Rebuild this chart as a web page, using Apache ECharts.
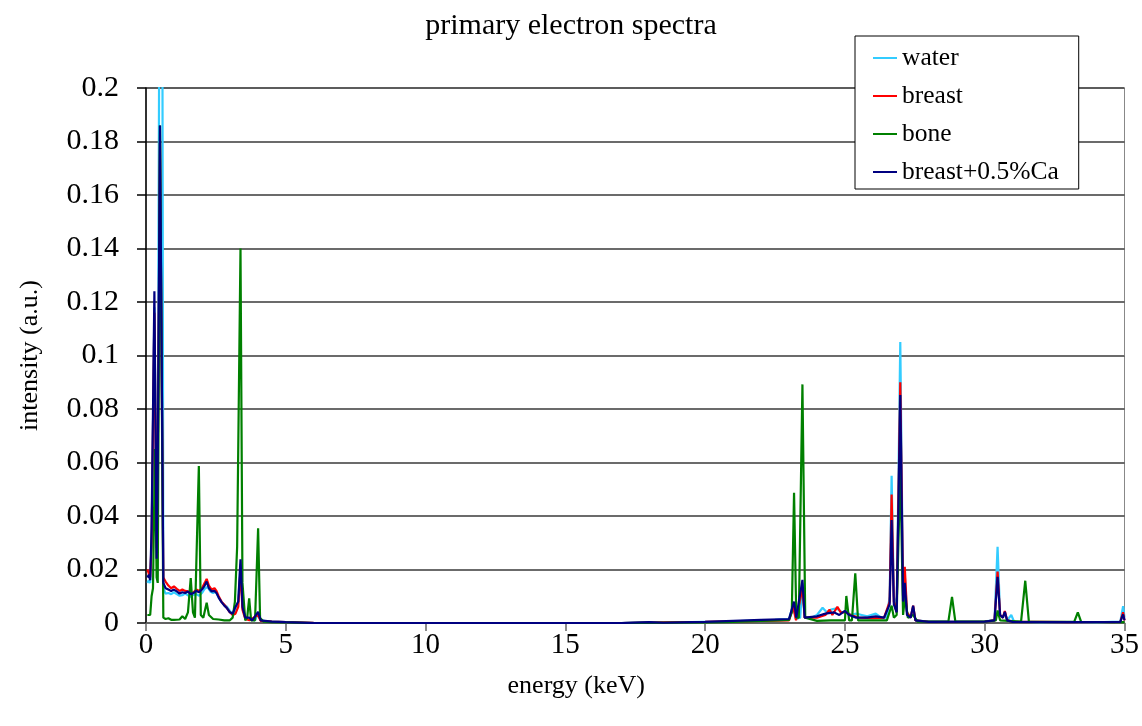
<!DOCTYPE html>
<html>
<head>
<meta charset="utf-8">
<script src="https://cdn.jsdelivr.net/npm/echarts@6/dist/echarts.min.js"></script>
<style>
html,body{margin:0;padding:0;background:#fff;}
#chart{width:1142px;height:726px;}
</style>
</head>
<body>
<div id="chart"></div>
<script>
const seriesNames = ['water', 'breast', 'bone', 'breast+0.5%Ca'];
const xTicks = [0, 5, 10, 15, 20, 25, 30, 35];
const yTicks = [0, 0.02, 0.04, 0.06, 0.08, 0.1, 0.12, 0.14, 0.16, 0.18, 0.2];

const waterE = [0.05,0.1,0.15,0.2,0.3,0.38,0.42,0.47,0.5,0.56,0.59,0.62,0.7,0.8,0.9,1.0,1.1,1.2,1.3,1.4,1.5,1.6,1.7,1.8,1.9,2.0,2.1,2.2,2.3,2.4,2.5,2.6,2.7,2.8,2.9,3.0,3.1,3.2,3.3,3.38,3.45,3.55,3.7,3.9,4.0,4.1,4.3,4.6,5,6,10,17,18,19,20,21,22,22.5,23,23.15,23.25,23.4,23.48,23.56,23.8,24.0,24.2,24.35,24.5,24.7,24.9,25.05,25.2,25.4,25.6,25.8,26.1,26.3,26.5,26.6,26.67,26.75,26.85,26.98,27.08,27.14,27.22,27.35,27.44,27.52,28,29,30,30.35,30.46,30.55,30.65,30.72,30.8,30.95,31.05,32,33,34,34.85,34.95,35];
const waterI = [0.015,0.016,0.015,0.03,0.118,0.03,0.06,0.21,0.26,0.26,0.2,0.013,0.011,0.0112,0.0108,0.0115,0.0108,0.0102,0.0104,0.011,0.0104,0.0098,0.0105,0.0108,0.0102,0.0112,0.0128,0.0135,0.0118,0.0112,0.0118,0.0095,0.008,0.0068,0.006,0.0045,0.0035,0.0045,0.008,0.022,0.007,0.002,0.0015,0.001,0.0035,0.001,0.0006,0.0005,0.0003,0.0001,0,0,0.0003,0.0002,0.0004,0.0006,0.001,0.0012,0.0015,0.007,0.0015,0.002,0.015,0.002,0.002,0.003,0.0057,0.004,0.005,0.0055,0.004,0.0045,0.003,0.0035,0.003,0.0025,0.0035,0.002,0.002,0.01,0.055,0.01,0.005,0.105,0.01,0.018,0.004,0.002,0.006,0.001,0.0005,0.0005,0.0006,0.001,0.0285,0.003,0.002,0.004,0.001,0.003,0.0005,0.0003,0.0003,0.0002,0.0005,0.0063,0.002];

const breastE = [0.05,0.1,0.15,0.2,0.3,0.38,0.42,0.5,0.56,0.62,0.7,0.8,0.9,1.0,1.1,1.2,1.3,1.4,1.5,1.6,1.7,1.8,1.9,2.0,2.1,2.17,2.25,2.35,2.45,2.52,2.6,2.7,2.8,2.9,3.0,3.1,3.2,3.3,3.38,3.45,3.55,3.7,4.0,4.1,4.5,5,6,10,17,18.5,20,21,22,23,23.15,23.25,23.48,23.56,24,24.3,24.45,24.55,24.73,24.85,25.05,25.2,25.5,26,26.4,26.6,26.67,26.75,26.85,26.98,27.08,27.14,27.22,27.35,27.44,27.52,28,30,30.35,30.46,30.55,30.65,30.72,30.8,31,33,34.85,34.95,35];
const breastI = [0.02,0.02,0.017,0.03,0.116,0.028,0.06,0.18,0.18,0.017,0.0155,0.014,0.013,0.0137,0.0128,0.012,0.0125,0.012,0.0118,0.011,0.0115,0.0125,0.012,0.013,0.015,0.0165,0.014,0.0125,0.013,0.012,0.01,0.008,0.0068,0.0055,0.004,0.003,0.0035,0.006,0.02,0.005,0.0015,0.001,0.003,0.0008,0.0005,0.0003,0.0001,0,0,0.0002,0.0004,0.0006,0.0008,0.001,0.006,0.001,0.013,0.002,0.002,0.003,0.005,0.003,0.006,0.004,0.004,0.003,0.002,0.0018,0.002,0.008,0.048,0.008,0.004,0.09,0.01,0.021,0.004,0.002,0.0065,0.001,0.0004,0.0005,0.001,0.0192,0.003,0.002,0.0045,0.001,0.0005,0.0003,0.0004,0.004,0.001];

const boneE = [0.05,0.15,0.2,0.25,0.32,0.38,0.42,0.5,0.55,0.62,0.7,0.8,0.9,1.0,1.2,1.3,1.4,1.5,1.6,1.68,1.75,1.89,1.96,2.05,2.17,2.25,2.4,2.6,2.8,3.0,3.1,3.18,3.26,3.38,3.45,3.55,3.62,3.69,3.76,3.9,4.01,4.08,4.2,4.5,5,6,17,20,21,22,22.6,23,23.1,23.18,23.26,23.35,23.48,23.58,24,24.5,25,25.05,25.15,25.25,25.37,25.47,26,26.5,26.67,26.75,26.85,26.98,27.08,27.15,27.25,27.44,27.6,28.7,28.83,28.95,30,30.4,30.46,30.55,31.3,31.45,31.58,33.2,33.33,33.45,35];
const boneI = [0.003,0.003,0.01,0.013,0.065,0.017,0.015,0.186,0.186,0.002,0.0015,0.0018,0.0012,0.0012,0.0013,0.0025,0.0015,0.004,0.0168,0.004,0.002,0.0587,0.003,0.002,0.0076,0.003,0.0015,0.0013,0.001,0.001,0.002,0.008,0.0285,0.14,0.015,0.001,0.002,0.0092,0.001,0.001,0.0354,0.002,0.0005,0.0003,0.0002,0,0,0.0002,0.0004,0.0008,0.001,0.0012,0.004,0.0487,0.002,0.002,0.0892,0.002,0.0008,0.001,0.001,0.0101,0.001,0.001,0.0186,0.001,0.001,0.001,0.0065,0.002,0.003,0.058,0.003,0.01,0.002,0.003,0.0005,0.0005,0.0098,0.0005,0.0005,0.001,0.0047,0.001,0.0005,0.0158,0.0005,0.0004,0.004,0.0004,0.0003];

const caE = [0.05,0.1,0.15,0.2,0.3,0.38,0.42,0.5,0.55,0.62,0.7,0.8,0.9,1.0,1.1,1.2,1.3,1.4,1.5,1.6,1.7,1.8,1.9,2.0,2.1,2.17,2.25,2.35,2.45,2.52,2.6,2.7,2.8,2.9,3.0,3.1,3.2,3.3,3.38,3.45,3.55,3.69,3.8,4.01,4.1,4.5,5,6,17,18,18.5,19.5,20,21,22,23,23.18,23.26,23.48,23.56,24,24.3,24.6,24.8,25,25.15,25.4,25.8,26.1,26.4,26.6,26.67,26.75,26.85,26.98,27.08,27.14,27.22,27.35,27.44,27.52,28,30,30.35,30.46,30.55,30.65,30.72,30.8,31,33,34.85,34.95,35];
const caI = [0.017,0.018,0.016,0.035,0.124,0.024,0.06,0.186,0.186,0.015,0.013,0.0125,0.012,0.0125,0.0118,0.011,0.0115,0.0112,0.0118,0.0108,0.0112,0.012,0.0115,0.0125,0.014,0.0155,0.013,0.0118,0.012,0.0112,0.0095,0.0078,0.0065,0.0055,0.004,0.0035,0.006,0.008,0.0238,0.006,0.002,0.002,0.001,0.0042,0.001,0.0005,0.0003,0,0,0.0003,0.0001,0.0003,0.0004,0.0008,0.0012,0.0015,0.008,0.002,0.0161,0.002,0.0025,0.0035,0.004,0.003,0.0045,0.003,0.002,0.002,0.0025,0.002,0.007,0.0385,0.007,0.004,0.0852,0.008,0.015,0.003,0.002,0.0065,0.001,0.0004,0.0005,0.001,0.0173,0.003,0.002,0.0042,0.001,0.0004,0.0003,0.0004,0.0032,0.001];

const colors = ['#33CCFF', '#FF0000', '#008000', '#000080'];
const energies = [waterE, breastE, boneE, caE];
const intensities = [waterI, breastI, boneI, caI];

const serif = '"Liberation Serif", "Times New Roman", serif';
const chart = echarts.init(document.getElementById('chart'));
chart.setOption({
  animation: false,
  backgroundColor: '#fff',
  title: {
    text: 'primary electron spectra',
    left: 'center',
    top: 6,
    textStyle: { fontFamily: serif, fontSize: 30, fontWeight: 'normal', color: '#000' }
  },
  legend: {
    data: seriesNames.map(n => ({ name: n, icon: 'rect' })),
    orient: 'vertical',
    left: 855,
    top: 36,
    padding: [9, 20, 4, 18],
    itemGap: 12,
    itemWidth: 24,
    itemHeight: 2,
    backgroundColor: '#fff',
    borderColor: '#000',
    borderWidth: 1,
    borderRadius: 0,
    textStyle: { fontFamily: serif, fontSize: 25.5, color: '#000' }
  },
  grid: { left: 146, right: 16, top: 88, bottom: 103, show: true, borderColor: '#888', borderWidth: 1 },
  xAxis: {
    type: 'value',
    min: xTicks[0],
    max: xTicks[xTicks.length - 1],
    interval: 5,
    name: 'energy (keV)',
    nameLocation: 'middle',
    nameGap: 50,
    nameTextStyle: { fontFamily: serif, fontSize: 26, color: '#000', padding: [0, 118, 0, 0] },
    axisLine: { lineStyle: { color: '#666', width: 1.5 } },
    axisTick: { show: true, length: 8, lineStyle: { color: '#666', width: 1.5 } },
    axisLabel: { fontFamily: serif, fontSize: 29, color: '#000', margin: 8 },
    splitLine: { show: false }
  },
  yAxis: {
    type: 'value',
    min: yTicks[0],
    max: yTicks[yTicks.length - 1],
    interval: 0.02,
    name: 'intensity (a.u.)',
    nameLocation: 'middle',
    nameGap: 103,
    nameTextStyle: { fontFamily: serif, fontSize: 26, color: '#000' },
    axisLine: { show: true, lineStyle: { color: '#000', width: 1.5 } },
    axisTick: { show: true, length: 9, lineStyle: { color: '#000', width: 1.5 } },
    axisLabel: { fontFamily: serif, fontSize: 30, color: '#000', margin: 27,
      formatter: v => String(Math.round(v * 100) / 100) },
    splitLine: { show: true, lineStyle: { color: '#3a3a3a', width: 1.5 } }
  },
  series: seriesNames.map((n, i) => ({
    name: n,
    type: 'line',
    symbol: 'none',
    clip: true,
    color: colors[i],
    lineStyle: { color: colors[i], width: 2.2 },
    data: energies[i].map((e, k) => [e, intensities[i][k]])
  }))
});
</script>
</body>
</html>
